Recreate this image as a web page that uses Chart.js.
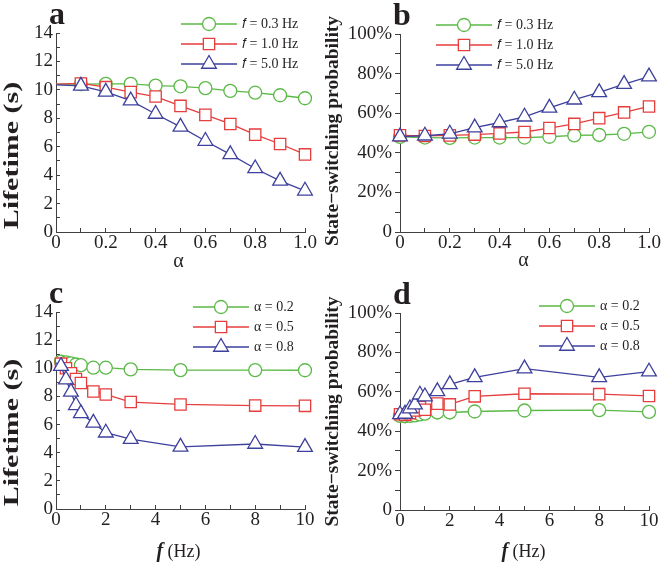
<!DOCTYPE html>
<html>
<head>
<meta charset="utf-8">
<script src="https://cdn.jsdelivr.net/npm/chart.js@4.4.1/dist/chart.umd.min.js"></script>
<style>
  html, body { margin: 0; padding: 0; background: #fff; }
  #page { position: relative; width: 666px; height: 563px; overflow: hidden; }
  .panel { position: absolute; }
</style>
</head>
<body>
<div id="page">
  <div class="panel" style="left:0;top:0;width:333px;height:280px"><canvas id="chartA"></canvas></div>
  <div class="panel" style="left:318px;top:0;width:348px;height:280px"><canvas id="chartB"></canvas></div>
  <div class="panel" style="left:0;top:280px;width:333px;height:283px"><canvas id="chartC"></canvas></div>
  <div class="panel" style="left:318px;top:280px;width:348px;height:283px"><canvas id="chartD"></canvas></div>
</div>
<script>
// x values
const alpha = [0, 0.1, 0.2, 0.3, 0.4, 0.5, 0.6, 0.7, 0.8, 0.9, 1.0];
const freqHz = [0, 0.2, 0.4, 0.6, 0.8, 1, 1.5, 2, 3, 5, 8, 10];

// (a) lifetime (s) vs alpha
const lifeF03 = [10.4, 10.4, 10.42, 10.42, 10.3, 10.25, 10.12, 9.93, 9.8, 9.62, 9.41];
const lifeF10 = [10.4, 10.45, 10.19, 9.84, 9.53, 8.87, 8.24, 7.6, 6.85, 6.19, 5.46];
const lifeF50 = [10.35, 10.28, 9.86, 9.24, 8.3, 7.4, 6.4, 5.46, 4.47, 3.6, 2.9];

// (b) state-switching probability (%) vs alpha
const probF03 = [48.0, 47.7, 47.5, 47.7, 47.7, 47.7, 48.1, 48.8, 49.0, 49.6, 50.6];
const probF10 = [48.8, 48.5, 48.8, 49.2, 49.8, 50.5, 52.5, 54.6, 57.5, 60.4, 63.4];
const probF50 = [48.2, 48.6, 49.6, 52.7, 55.3, 58.2, 62.7, 66.8, 70.5, 74.7, 78.5];

// (c) lifetime (s) vs f
const lifeA02 = [10.5, 10.48, 10.42, 10.35, 10.27, 10.22, 10.04, 10.04, 9.92, 9.87, 9.87, 9.86];
const lifeA05 = [10.45, 10.33, 10.0, 9.65, 9.24, 8.95, 8.35, 8.14, 7.6, 7.43, 7.35, 7.33];
const lifeA08 = [10.4, 10.15, 9.2, 8.32, 7.37, 6.8, 6.12, 5.42, 4.96, 4.42, 4.62, 4.4];

// (d) state-switching probability (%) vs f
const probA02 = [47.8, 47.6, 47.8, 48.0, 48.5, 48.9, 49.5, 49.5, 50.0, 50.5, 50.7, 49.8];
const probA05 = [48.6, 48.3, 49.2, 50.5, 52.3, 50.9, 54.0, 53.6, 57.7, 59.0, 58.8, 57.9];
const probA08 = [48.5, 48.8, 51.5, 53.5, 58.5, 57.6, 60.2, 63.8, 67.3, 71.8, 67.3, 70.2];

const freqNames = ['\u{1D453} = 0.3 Hz', '\u{1D453} = 1.0 Hz', '\u{1D453} = 5.0 Hz'];
const alphaNames = ['\u03B1 = 0.2', '\u03B1 = 0.5', '\u03B1 = 0.8'];

// tick labels shown (other ticks are unlabelled minor ticks)
const lifeTicks = [0, 2, 4, 6, 8, 10, 12, 14];
const probTicks = [0, 20, 40, 60, 80, 100];
const alphaTicks = [0, 0.2, 0.4, 0.6, 0.8, 1.0];
const freqTicks = [0, 2, 4, 6, 8, 10];

const SERIF = '"Liberation Serif", "Times New Roman", serif';
const INK = '#231f20';
const AXIS = '#404040';
const series = [
  { color: '#5bb947', style: 'circle', radius: 6.5, order: 2 },
  { color: '#e63d3d', style: 'rect', radius: 8, order: 1 },
  { color: '#3d409c', style: 'triangle', radius: 8.5, order: 0 }
];

function legendIcon(s) {
  const c = document.createElement('canvas');
  c.width = 56; c.height = 22;
  const g = c.getContext('2d');
  g.strokeStyle = s.color;
  g.lineWidth = 1.3;
  g.beginPath(); g.moveTo(0, 11); g.lineTo(56, 11); g.stroke();
  g.fillStyle = '#fff';
  Chart.helpers.drawPoint(g, { pointStyle: s.style, radius: s.radius, borderWidth: 1.3, rotation: 0 }, 28, 11);
  return c;
}

function buildDatasets(xs, values, names, hideFirst) {
  return values.map((vals, i) => {
    const s = series[i];
    return {
      label: names[i],
      data: xs.map((x, j) => ({ x, y: vals[j] })),
      borderColor: s.color,
      backgroundColor: '#fff',
      borderWidth: 1.3,
      pointStyle: s.style,
      pointRadius: xs.map((x, j) => (hideFirst && j === 0) ? 0 : s.radius),
      pointBorderWidth: 1.3,
      pointBackgroundColor: '#fff',
      pointBorderColor: s.color,
      order: s.order,
      clip: false,
      legendIcon: legendIcon(s)
    };
  });
}

const near = (v, list) => list.some(t => Math.abs(t - v) < 1e-6);

function axisX(max, step, shown, fmt, height) {
  return {
    type: 'linear', min: 0, max,
    border: { display: true, color: AXIS, width: 1 },
    grid: { drawOnChartArea: false, drawTicks: true, tickLength: -4, tickColor: AXIS },
    ticks: {
      stepSize: step, autoSkip: false, maxRotation: 0, padding: 4, color: INK,
      font: { family: SERIF, size: 19 },
      callback: v => near(v, shown) ? fmt(v) : ''
    },
    afterFit: s => { s.height = height; }
  };
}

function axisY(max, step, shown, fmt, width, tickLen, pad) {
  return {
    type: 'linear', min: 0, max,
    border: { display: true, color: AXIS, width: 1 },
    grid: { drawOnChartArea: false, drawTicks: true, tickLength: tickLen, tickColor: AXIS },
    ticks: {
      stepSize: step, autoSkip: false, padding: pad, color: INK,
      font: { family: SERIF, size: 19 },
      callback: v => near(v, shown) ? fmt(v) : ''
    },
    afterFit: s => { s.width = width; }
  };
}

// panel letter, axis titles, legend placement
const panelText = {
  id: 'panelText',
  afterLayout(chart, args, opts) {
    const lg = chart.legend;
    if (!lg) return;
    const pad = chart.options.plugins.legend.labels.padding;
    const dx = opts.legendAt.x - pad - lg.left;
    const dy = opts.legendAt.y - pad - lg.top;
    lg.left += dx; lg.right += dx; lg.top += dy; lg.bottom += dy;
  },
  afterDraw(chart, args, opts) {
    const { ctx, chartArea: ca } = chart;
    ctx.save();
    ctx.fillStyle = INK;
    ctx.textAlign = 'left';
    ctx.textBaseline = 'alphabetic';
    ctx.font = 'bold 32px ' + SERIF;
    ctx.fillText(opts.letter, ca.left - 7, ca.top - 9);

    // y title
    const yt = opts.yTitle;
    ctx.save();
    ctx.translate(ca.left + yt.dx, (ca.top + ca.bottom) / 2 + yt.dy);
    ctx.rotate(-Math.PI / 2);
    ctx.scale(yt.stretch, 1);
    ctx.font = 'bold ' + yt.size + 'px ' + SERIF;
    ctx.textAlign = 'center';
    ctx.textBaseline = 'middle';
    ctx.fillText(yt.text, 0, 0);
    ctx.restore();

    // x title (mixed fonts)
    const xt = opts.xTitle;
    let total = 0;
    const widths = xt.parts.map(p => { ctx.font = p.font; const w = ctx.measureText(p.text).width; total += w; return w; });
    let x = (ca.left + ca.right) / 2 + xt.dx - total / 2;
    const y = ca.bottom + xt.dy;
    xt.parts.forEach((p, i) => { ctx.font = p.font; ctx.fillText(p.text, x, y); x += widths[i]; });
    ctx.restore();
  }
};

function makeChart(id, xs, values, names, hideFirst, scales, layoutPad, textOpts) {
  return new Chart(document.getElementById(id), {
    type: 'line',
    data: { datasets: buildDatasets(xs, values, names, hideFirst) },
    options: {
      responsive: true,
      maintainAspectRatio: false,
      animation: false,
      devicePixelRatio: 1,
      layout: { padding: layoutPad },
      plugins: {
        tooltip: { enabled: false },
        legend: {
          position: 'chartArea',
          align: 'start',
          labels: {
            usePointStyle: true,
            pointStyleWidth: 52,
            padding: 6,
            color: INK,
            font: { family: SERIF, size: 14 },
            generateLabels: chart => chart.data.datasets.map((ds, i) => ({
              text: ds.label, pointStyle: ds.legendIcon, fontColor: INK,
              lineWidth: 0, strokeStyle: ds.borderColor, fillStyle: '#fff',
              hidden: false, datasetIndex: i, rotation: 0
            }))
          }
        },
        panelText: textOpts
      },
      scales
    },
    plugins: [panelText]
  });
}

const fmtAlpha = v => v === 0 ? '0' : v.toFixed(1);
const fmtInt = v => String(Math.round(v));
const fmtPct = v => v === 0 ? '0' : Math.round(v) + '%';

const alphaTitle = { parts: [{ text: '\u03B1', font: '20px ' + SERIF }] };
const freqTitle = { parts: [{ text: 'f', font: 'italic bold 20px ' + SERIF }, { text: ' (Hz)', font: '18px ' + SERIF }] };
const lifeTitle = { text: 'Lifetime (s)', size: 20, stretch: 1.5 };
const probTitle = { text: 'State\u2212switching probability', size: 19.5, stretch: 1 };

makeChart('chartA', alpha, [lifeF03, lifeF10, lifeF50], freqNames, true,
  { x: axisX(1, 0.1, alphaTicks, fmtAlpha, 48), y: axisY(14, 1, lifeTicks, fmtInt, 56, -4, 7) },
  { left: 0, top: 33, right: 28, bottom: 0 },
  { letter: 'a', yTitle: { ...lifeTitle, dx: -43, dy: 23 }, xTitle: { ...alphaTitle, dx: -2, dy: 35 }, legendAt: { x: 183, y: 17 } });

makeChart('chartB', alpha, [probF03, probF10, probF50], freqNames, false,
  { x: axisX(1, 0.1, alphaTicks, fmtAlpha, 48), y: axisY(100, 10, probTicks, fmtPct, 82, 5, 3) },
  { left: 0, top: 34, right: 17, bottom: 0 },
  { letter: 'b', yTitle: { ...probTitle, dx: -67.5, dy: -2 }, xTitle: { ...alphaTitle, dx: -1, dy: 34 }, legendAt: { x: 120, y: 18 } });

makeChart('chartC', freqHz, [lifeA02, lifeA05, lifeA08], alphaNames, true,
  { x: axisX(10, 1, freqTicks, fmtInt, 54), y: axisY(14, 1, lifeTicks, fmtInt, 56, -4, 7) },
  { left: 0, top: 32, right: 28, bottom: 0 },
  { letter: 'c', yTitle: { ...lifeTitle, dx: -43, dy: 22 }, xTitle: { ...freqTitle, dx: -2, dy: 48 }, legendAt: { x: 195, y: 20 } });

makeChart('chartD', freqHz, [probA02, probA05, probA08], alphaNames, false,
  { x: axisX(10, 1, freqTicks, fmtInt, 53), y: axisY(100, 10, probTicks, fmtPct, 82, 5, 3) },
  { left: 0, top: 33, right: 17, bottom: 0 },
  { letter: 'd', yTitle: { ...probTitle, dx: -67.5, dy: 0 }, xTitle: { ...freqTitle, dx: -1, dy: 47 }, legendAt: { x: 223, y: 19 } });
</script>
</body>
</html>
